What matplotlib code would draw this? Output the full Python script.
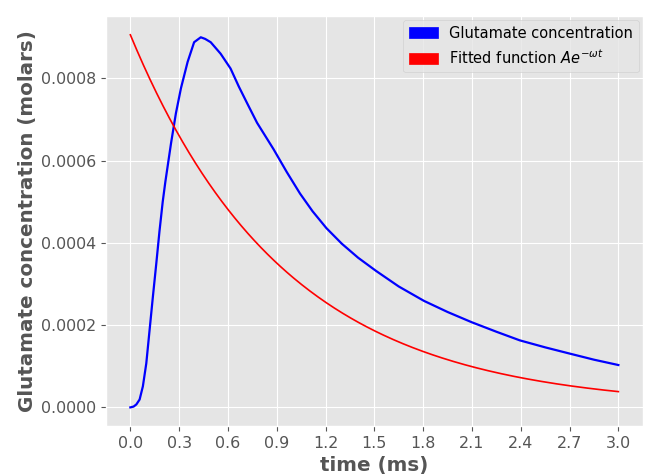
import numpy as np
import matplotlib
matplotlib.use("Agg")
import matplotlib.pyplot as plt
import matplotlib.patches as mpatches
from matplotlib.ticker import FormatStrFormatter

plt.style.use("ggplot")
plt.rcParams["font.size"] = 11.4

# Glutamate concentration
time_ms = [0.0, 0.02, 0.037, 0.057, 0.077, 0.098, 0.118, 0.138, 0.159, 0.179,
           0.199, 0.215, 0.25, 0.28, 0.311, 0.352, 0.392, 0.433, 0.46, 0.494,
           0.555, 0.616, 0.667, 0.72, 0.779, 0.88, 0.962, 1.043, 1.12, 1.205,
           1.3, 1.4, 1.51, 1.65, 1.805, 1.95, 2.099, 2.25, 2.394, 2.55, 2.699,
           2.85, 3.0]
glutamate = [0.0, 0.000002, 0.0000072, 0.0000192, 0.0000512, 0.000107,
             0.000187, 0.000267, 0.000348, 0.000428, 0.0005, 0.000548,
             0.000642, 0.000715, 0.000776, 0.00084, 0.000888, 0.0009,
             0.000896, 0.000888, 0.00086, 0.000824, 0.00078, 0.000738,
             0.000692, 0.000628, 0.000572, 0.00052, 0.000477, 0.000436,
             0.000398, 0.000364, 0.000332, 0.000294, 0.000259, 0.000232,
             0.000207, 0.000184, 0.000163, 0.000146, 0.000131, 0.000116,
             0.000103]

# Fitted function parameters A*exp(-omega*t)
A = 0.000906
omega = 1.054

x_ticks = [0.0, 0.3, 0.6, 0.9, 1.2, 1.5, 1.8, 2.1, 2.4, 2.7, 3.0]
y_ticks = [0.0, 0.0002, 0.0004, 0.0006, 0.0008]

fig = plt.figure(figsize=(6.46, 4.76), dpi=100)
ax = fig.add_axes([0.164, 0.105, 0.831, 0.861])

t_fit = np.linspace(0, 3.0, 300)
ax.plot(time_ms, glutamate, color="blue", lw=1.6)
ax.plot(t_fit, A * np.exp(-omega * t_fit), color="red", lw=1.2)

ax.set_xticks(x_ticks)
ax.set_yticks(y_ticks)
ax.xaxis.set_major_formatter(FormatStrFormatter("%.1f"))
ax.yaxis.set_major_formatter(FormatStrFormatter("%.4f"))
ax.set_xlabel("time (ms)", fontweight="bold", fontsize=14.3, color="#555555",
              labelpad=4)
ax.set_ylabel("Glutamate concentration (molars)", fontweight="bold",
              fontsize=14.3, color="#555555", labelpad=3)

handles = [mpatches.Patch(color="blue", label="Glutamate concentration"),
           mpatches.Patch(color="red", label=r"Fitted function $Ae^{-\omega t}$")]
ax.legend(handles=handles, loc="upper right", fontsize=10.5,
          borderaxespad=0.25)

fig.savefig("out.png", dpi=100)
